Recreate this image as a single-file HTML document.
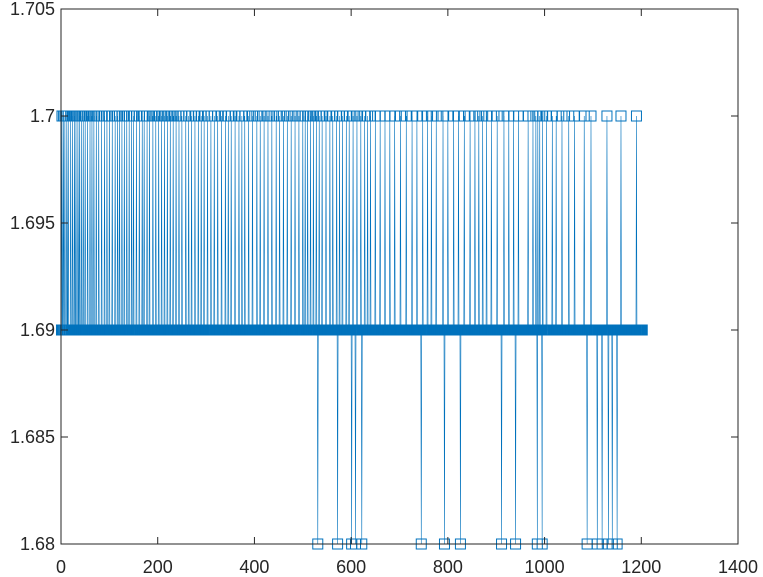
<!DOCTYPE html>
<html><head><meta charset="utf-8"><style>
html,body{margin:0;padding:0;background:#fff;}
svg{display:block;font-family:"Liberation Sans",Arial,sans-serif;}
</style></head><body>
<svg id="chart" width="763" height="577" viewBox="0 0 763 577" xmlns="http://www.w3.org/2000/svg">
<rect x="0" y="0" width="763" height="577" fill="#fff"/>
<g id="plot"></g>
<g id="axes"></g>
</svg>
<script>
const N = 1202;
const baseValue = 1.69;
const highIdx = [2,5,8,12,15,20,24,28,31,35,38,42,46,50,55,60,64,68,73,78,84,90,95,100,106,112,117,121,126,131,136,141,146,150,156,162,168,172,178,183,190,196,202,208,214,220,226,232,238,244,250,258,264,270,277,284,290,296,303,310,317,324,332,340,346,352,360,368,374,380,388,396,405,412,420,428,436,445,452,460,468,476,484,492,500,505,510,516,522,528,534,540,548,556,562,570,576,582,590,596,604,612,620,628,634,640,650,660,670,680,690,702,714,726,736,748,758,766,776,790,800,812,822,834,846,856,864,872,880,890,902,916,926,936,946,966,976,982,986,990,996,1004,1016,1024,1036,1050,1062,1082,1096,1129,1158,1190];
const highValue = 1.7;
const lowIdx = [531,572,582,601,609,622,640,745,793,826,911,940,985,995,1004,1088,1109,1119,1132,1140,1150];
const lowValue = 1.68;
const xTicks = [0,200,400,600,800,1000,1200,1400];
const yTicks = [1.68,1.685,1.69,1.695,1.7,1.705];
const yTickLabels = ["1.68","1.685","1.69","1.695","1.7","1.705"];

const L=61,R=738,T=9,B=544;
const xMin=0,xMax=1400,yMin=1.68,yMax=1.705;
const sx=v=>L+(v-xMin)/(xMax-xMin)*(R-L);
const sy=v=>B-(v-yMin)/(yMax-yMin)*(B-T);
const NS="http://www.w3.org/2000/svg";
const color="#0072BD";

const xs=[],ys=[];
const hi=new Set(highIdx),lo=new Set(lowIdx);
for(let i=1;i<=N;i++){xs.push(i);ys.push(hi.has(i)?highValue:(lo.has(i)?lowValue:baseValue));}

const plot=document.getElementById('plot');
let d='';
for(let i=0;i<xs.length;i++){d+=(i?'L':'M')+sx(xs[i]).toFixed(2)+' '+sy(ys[i]).toFixed(2);}
const line=document.createElementNS(NS,'path');
line.setAttribute('d',d);line.setAttribute('fill','none');line.setAttribute('stroke',color);line.setAttribute('stroke-width','0.6');


plot.appendChild(line);
for(let i=0;i<xs.length;i++){
  const r=document.createElementNS(NS,'rect');
  r.setAttribute('x',(sx(xs[i])-5).toFixed(2));r.setAttribute('y',(sy(ys[i])-5).toFixed(2));
  r.setAttribute('width','10');r.setAttribute('height','10');
  r.setAttribute('fill','none');r.setAttribute('stroke',color);r.setAttribute('stroke-width','1');
  
  
  plot.appendChild(r);
}

const axes=document.getElementById('axes');
const frame=document.createElementNS(NS,'rect');
frame.setAttribute('x',L);frame.setAttribute('y',T);frame.setAttribute('width',R-L);frame.setAttribute('height',B-T);
frame.setAttribute('fill','none');frame.setAttribute('stroke','#262626');frame.setAttribute('stroke-width','1');


axes.appendChild(frame);
xTicks.forEach(v=>{
  const x=sx(v);
  [[B,B-7],[T,T+7]].forEach(p=>{
    const t=document.createElementNS(NS,'line');
    t.setAttribute('x1',x);t.setAttribute('x2',x);t.setAttribute('y1',p[0]);t.setAttribute('y2',p[1]);t.setAttribute('stroke','#262626');
    
    
    axes.appendChild(t);
  });
  const tx=document.createElementNS(NS,'text');
  tx.setAttribute('x',x);tx.setAttribute('y',573);tx.setAttribute('text-anchor','middle');tx.setAttribute('font-size','18');tx.setAttribute('fill','#262626');
  tx.textContent=String(v);
  
  
  axes.appendChild(tx);
});
yTicks.forEach((v,i)=>{
  const y=sy(v);
  [[L,L+7],[R,R-7]].forEach(p=>{
    const t=document.createElementNS(NS,'line');
    t.setAttribute('x1',p[0]);t.setAttribute('x2',p[1]);t.setAttribute('y1',y);t.setAttribute('y2',y);t.setAttribute('stroke','#262626');
    
    
    axes.appendChild(t);
  });
  const tx=document.createElementNS(NS,'text');
  tx.setAttribute('x',55);tx.setAttribute('y',y+6);tx.setAttribute('text-anchor','end');tx.setAttribute('font-size','18');tx.setAttribute('fill','#262626');
  tx.textContent=yTickLabels[i];
  
  
  axes.appendChild(tx);
});
</script>
</body></html>
